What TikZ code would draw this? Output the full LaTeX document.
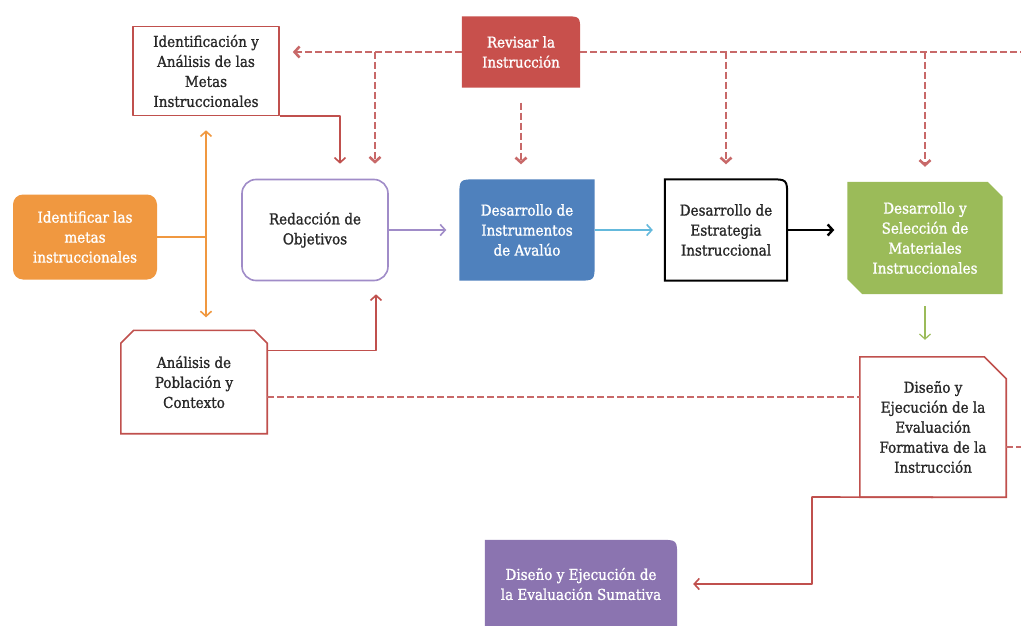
\documentclass[tikz,border=0pt]{standalone}
\usepackage{fontspec}
\setmainfont{DejaVu Serif Condensed}[RawFeature={embolden=1.2}]
\usetikzlibrary{arrows.meta,calc,backgrounds}

\definecolor{redline}{RGB}{192,80,77}
\definecolor{dashred}{RGB}{200,105,105}
\definecolor{revred}{RGB}{200,80,76}
\definecolor{orangebox}{RGB}{240,152,64}
\definecolor{purpleline}{RGB}{160,140,200}
\definecolor{bluebox}{RGB}{79,129,189}
\definecolor{greenbox}{RGB}{155,187,89}
\definecolor{sumbox}{RGB}{139,116,176}
\definecolor{lightblue}{RGB}{100,185,220}
\definecolor{textgray}{RGB}{40,40,40}

\begin{document}
\begin{tikzpicture}[x=1pt, y=-1pt, line join=round,
  >={Straight Barb[length=5pt,width=11pt]},
  every node/.style={font=\fontsize{15}{20}\selectfont, align=center, inner sep=0pt, text=textgray},
  dashlink/.style={dashred, line width=2.6pt, dash pattern=on 7pt off 3pt},
  redlink/.style={redline, line width=1.6pt},
  orangelink/.style={orangebox, line width=1.6pt},
]
\useasboundingbox (0,0) rectangle (1021,626);

% boxes
\node[minimum width=146pt, minimum height=89pt, draw=redline, line width=1.6pt, fill=white]
  (ident) at (206,71) {Identificación y\\Análisis de las\\Metas\\Instruccionales};
\node[minimum width=118pt, minimum height=71pt, text=white]
  (rev) at (521,52) {Revisar la\\Instrucción};
\node[minimum width=144pt, minimum height=85pt, rounded corners=10pt, fill=orangebox, text=white]
  (metas) at (85,237) {Identificar las\\metas\\instruccionales};
\node[minimum width=146pt, minimum height=101pt, rounded corners=14pt, draw=purpleline, line width=1.6pt]
  (redac) at (315,230) {Redacción de\\Objetivos};
\node[minimum width=135pt, minimum height=101pt, text=white]
  (inst) at (527,230) {Desarrollo de\\Instrumentos\\de Avalúo};
\node[minimum width=122pt, minimum height=101pt]
  (estr) at (726,230) {Desarrollo de\\Estrategia\\Instruccional};
\node[minimum width=155pt, minimum height=112pt, text=white]
  (mat) at (925,238) {Desarrollo y\\Selección de\\Materiales\\Instruccionales};
\node[minimum width=146pt, minimum height=140pt]
  (formt) at (933,427) {Diseño y\\Ejecución de la\\Evaluación\\Formativa de la\\Instrucción};
\node[minimum width=146pt, minimum height=103pt]
  (anal) at (194,382) {Análisis de\\Población y\\Contexto};
\node[minimum width=192pt, minimum height=88pt, text=white]
  (sum) at (581,584) {Diseño y Ejecución de\\la Evaluación Sumativa};

% shapes with odd corners
\begin{scope}[on background layer]
\fill[white] (0,0) rectangle (1021,626);
\fill[revred] (rev.south west) -- (rev.north west) -- ($(rev.north east)+(-16,0)$)
  .. controls (rev.north east) .. ($(rev.north east)+(0,16)$) -- (rev.south east) -- cycle;
\fill[bluebox] (inst.south west) -- ($(inst.north west)+(0,18)$)
  .. controls (inst.north west) .. ($(inst.north west)+(18,0)$) -- (inst.north east)
  -- ($(inst.south east)+(0,-18)$) .. controls (inst.south east) .. ($(inst.south east)+(-18,0)$) -- cycle;
\draw[black, line width=2pt, fill=white] (estr.south west) -- (estr.north west)
  -- ($(estr.north east)+(-18,0)$) .. controls (estr.north east) .. ($(estr.north east)+(0,18)$)
  -- (estr.south east) -- cycle;
\fill[greenbox] (mat.north west) -- ($(mat.north east)+(-15,0)$) -- ($(mat.north east)+(0,15)$)
  -- (mat.south east) -- ($(mat.south west)+(15,0)$) -- ($(mat.south west)+(0,-15)$) -- cycle;
\draw[redline, line width=1.6pt, fill=white] (formt.north west) -- ($(formt.north east)+(-22,0)$)
  -- ($(formt.north east)+(0,22)$) -- (formt.south east) -- (formt.south west) -- cycle;
\draw[redline, line width=1.6pt, fill=white] ($(anal.north west)+(13,0)$) -- ($(anal.north east)+(-13,0)$)
  -- ($(anal.north east)+(0,13)$) -- (anal.south east) -- (anal.south west)
  -- ($(anal.north west)+(0,13)$) -- cycle;
\fill[sumbox] (sum.south west) -- (sum.north west) -- ($(sum.north east)+(-18,0)$)
  .. controls (sum.north east) .. ($(sum.north east)+(0,18)$) -- (sum.south east) -- cycle;
\end{scope}

% feedback from revision
\coordinate (topR) at (1021,52);
\coordinate (drop1) at (375,52);
\draw[dashlink, ->, shorten >=13pt] (rev.west) -- (rev.west -| ident.east);
\draw[dashlink] (rev.east) -- (topR);
\draw[dashlink, ->, shorten >=15pt] (drop1) -- (drop1 |- redac.north);
\draw[dashlink, ->, shorten <=15pt, shorten >=15pt] (rev.south) -- (rev.south |- inst.north);
\draw[dashlink, ->, shorten >=15pt] (estr.north |- rev.east) -- (estr.north);
\draw[dashlink, ->, shorten >=15pt] (mat.north |- rev.east) -- (mat.north);

% main flow
\coordinate (jn) at (metas.east -| ident.south);
\draw[orangelink] (metas.east) -- (jn);
\draw[orangelink, ->, shorten >=14pt] (jn) -- (ident.south);
\draw[orangelink, ->, shorten >=13pt] (jn) -- (jn |- anal.north);
\draw[redlink, ->, shorten >=15pt] (ident.south east) -| ($(redac.north)+(25,0)$);
\draw[redlink, ->, shorten >=13pt] ($(anal.north east)+(0,20)$) -| ($(redac.south)+(61,0)$);
\draw[purpleline, line width=1.6pt, ->, shorten >=13pt] (redac.east) -- (inst.west);
\draw[lightblue, line width=1.6pt, ->, shorten >=12pt] (inst.east) -- (estr.west);
\draw[black, line width=2.4pt, ->, shorten >=13pt] (estr.east) -- (estr.east -| mat.west);
\draw[greenbox, line width=1.2pt, ->, shorten <=12pt, shorten >=17pt] (mat.south) -- (mat.south |- formt.north);

% evaluation
\draw[dashlink] ($(anal.east)+(0,15)$) coordinate (d0) -- (d0 -| formt.west);
\coordinate (botR) at (1021,447);
\draw[dashlink] (botR -| formt.east) -- (botR);
\coordinate (bend) at (812,497);
\draw[redlink, ->, shorten >=16pt] (formt.south) -- (bend) |- (sum.east);
\end{tikzpicture}
\end{document}
